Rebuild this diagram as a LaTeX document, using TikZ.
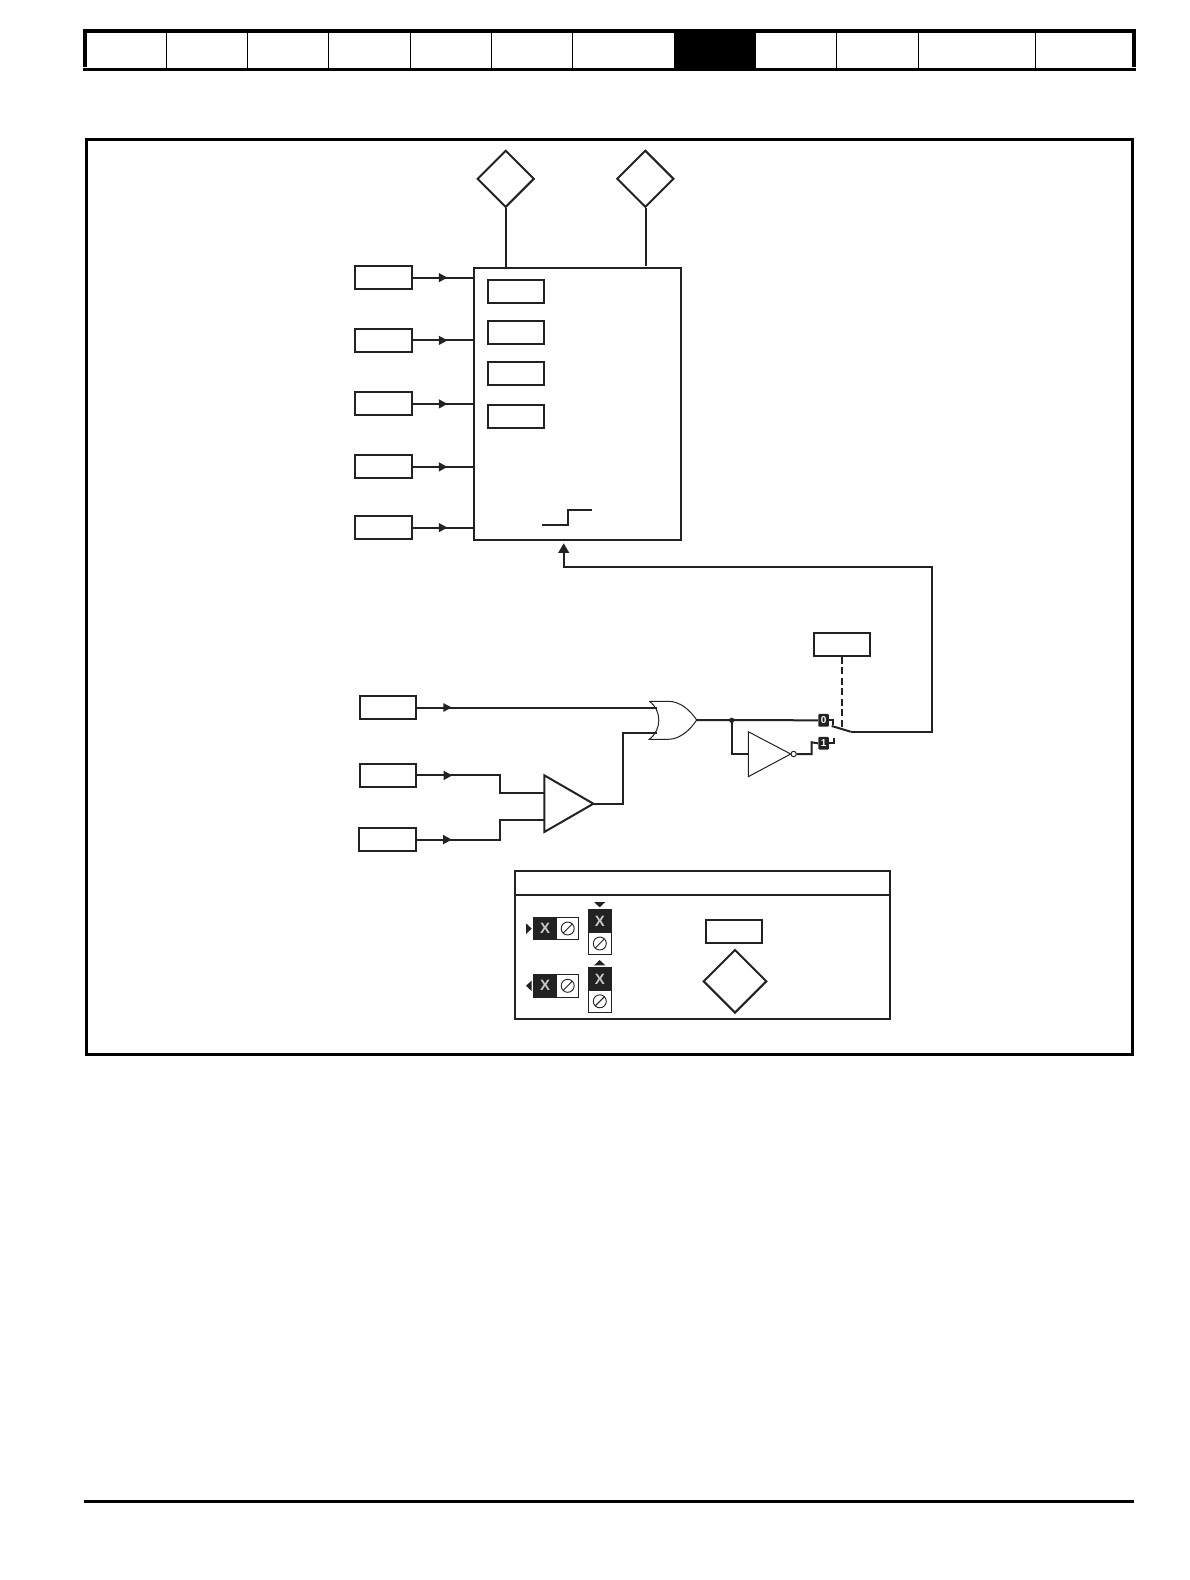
\documentclass[tikz,border=0pt]{standalone}
\usepackage{fontspec}
\setmainfont{Liberation Sans}
\usetikzlibrary{shapes.geometric,arrows.meta,decorations.markings,calc}
\definecolor{ink}{HTML}{222222}
\definecolor{pale}{HTML}{C8C8C8}
\tikzset{
  wire/.style={draw=ink,line width=2pt},
  thinwire/.style={draw=ink,line width=1pt},
  boxa/.style={draw=ink,line width=2pt,fill=white,inner sep=0pt,minimum width=56.6pt,minimum height=23pt},
  gemA/.style={shape=diamond,draw=ink,line width=2pt,fill=white,inner sep=0pt,minimum width=57pt,minimum height=57pt},
  headarrow/.style={postaction={decorate,decoration={markings,mark=at position #1 with {\fill[ink] (0,-4.7)--(8.5,0)--(0,4.7)--cycle;}}}},
  blackcell/.style={fill=ink,inner sep=0pt,text=pale,font=\fontsize{15}{15}\bfseries\selectfont},
  whitecell/.style={draw=ink,line width=.9pt,fill=white,inner sep=0pt},
  posbox/.style={fill=ink,rounded corners=1pt,inner sep=0pt,minimum width=10.7pt,minimum height=12.7pt,text=white,font=\fontsize{10}{10}\bfseries\selectfont},
  nosign/.style={draw=ink,line width=.9pt,circle,inner sep=0pt,minimum size=13pt,path picture={\draw[ink,line width=.9pt] (path picture bounding box.south west)--(path picture bounding box.north east);}},
}
\begin{document}
\begin{tikzpicture}[x=1pt,y=-1pt]
\useasboundingbox (0,0) rectangle (1190,1580);
% header strip
\fill[black] (82.7,29) rectangle (1136,33);
\fill[black] (82.7,67.7) rectangle (1136,71);
\fill[black] (82.7,29) rectangle (87,66.7);
\fill[black] (1132,29) rectangle (1136,66.7);
\fill[black] (674,29) rectangle (755.7,71);
\foreach \hx in {166.3,247.7,328.7,410.5,491.5,572.6,836.7,918.3,1035.3}
  \draw[black,line width=1pt] (\hx,30)--(\hx,70);
% frame and footer
\draw[black,line width=3pt] (86.4,139.6) rectangle (1132.5,1054.5);
\fill[black] (84,1499.8) rectangle (1134,1503.4);

% upper block
\node[boxa,minimum width=207pt,minimum height=272.3pt] (main) at (577.5,404) {};
\node[gemA] (d1) at (505.7,178.8) {};
\node[gemA] (d2) at (645.3,178.8) {};
\coordinate (d2end) at (645.8,265.7);
\draw[wire] (d1.south)--(d1.south |- main.north);
\draw[wire] (d2.south -| d2end)--(d2end);
\foreach \nm/\yy in {in1/277.6,in2/340.4,in3/403.9,in4/466.9,in5/527.6}{
  \node[boxa] (\nm) at (383.5,\yy) {};
  \draw[wire,headarrow=26pt] (\nm.east)--(\nm.east -| main.west);
}
\foreach \nm/\yy in {ib1/291.2,ib2/332,ib3/373.5,ib4/416.2}
  \node[boxa] (\nm) at (516,\yy) {};
\draw[wire] (542.3,524.7)--(568,524.7)--(568,509.7)--(591.7,509.7);

% lower inputs
\node[boxa] (c1) at (387.9,707.4) {};
\node[boxa] (c2) at (387.9,775.4) {};
\node[boxa] (c3) at (387.4,839.6) {};
\node[boxa] (sel) at (842,644.2) {};

% comparator
\coordinate (tA) at (544.3,775.3);
\coordinate (tB) at (544.3,832);
\coordinate (tO) at (593.4,803.7);
\coordinate (tI1) at (544.3,793);
\coordinate (tI2) at (544.3,820);
\draw[wire,fill=white,line join=miter] (tA)--(tB)--(tO)--cycle;
\draw[wire,headarrow=26.5pt] (c2.east)--(500,775.4)--(500,793)--(tI1);
\draw[wire,headarrow=26.5pt] (c3.east)--(500,839.6)--(500,820)--(tI2);

% OR gate
\coordinate (orA) at (656.5,707.6);
\coordinate (orB) at (656.5,732.7);
\coordinate (orO) at (696.7,720);
\draw[thinwire,fill=white] (649.3,701.3)--(668.3,701.3)
  .. controls (680,701.3) and (690,710) .. (orO)
  .. controls (690,730) and (680,739.3) .. (668.3,739.3)
  --(649.3,739.3)
  .. controls (662,730) and (662,710) .. (649.3,701.3);
\draw[wire] (c1.east |- orA)--(orA);
\fill[ink] (443.3,703.1)--(451.7,707.5)--(443.3,711.9)--cycle;
\draw[wire] (tO)--(623,803.7)--(623,732.7)--(orB);

% switch symbols
\node[posbox] (p0) at (823.6,720.3) {0};
\node[posbox] (p1) at (823.6,743.3) {1};
\draw[wire] (orO)--(p0.west);
\coordinate (dot) at (731.7,720.3);
\fill[ink] (dot) circle (2.6);
\coordinate (nA) at (748.3,731.7);
\coordinate (nB) at (748.3,776.7);
\coordinate (nO) at (790.7,754);
\draw[wire] (dot)--(731.7,754)--(748.3,754);
\draw[thinwire,fill=white] (nA)--(nB)--(nO)--cycle;
\node[draw=ink,line width=1pt,circle,inner sep=0pt,minimum size=5.4pt,fill=white] (bub) at (793.6,754) {};
\draw[wire] (bub.east)--(811.7,754)--(811.7,742.3)--(p1.west);
\draw[wire] (p0.east)--(833.3,720.3)--(833.3,725);
\draw[wire] (p1.east)--(833.5,743.3)--(833.5,738);
\coordinate (swB) at (850.7,731.7);
\draw[wire] (831.7,726)--(swB);
\draw[wire,dash pattern=on 7pt off 3.5pt] (sel.south)--(842,728);
\coordinate (fbtip) at (563.7,543.3);
\draw[wire,-{Triangle[width=10.5pt,length=9.5pt]}] (swB)--(932.3,731.7)--(932.3,567)--(563.7,567)--(fbtip);

% legend
\node[boxa,minimum width=375.3pt,minimum height=148pt] (legend) at (702.3,944.7) {};
\draw[wire] (legend.west |- 0,894.7)--(legend.east |- 0,894.7);
\node[boxa] (lbox) at (734,931.2) {};
\node[gemA,minimum width=63.5pt,minimum height=63.5pt] (lgem) at (735,981.3) {};
% horizontal pairs
\foreach \nm/\yy in {ha/928.5,hb/985.8}{
  \node[whitecell,minimum width=45.4pt,minimum height=22.6pt] (\nm) at (556,\yy) {};
  \node[blackcell,minimum width=23.4pt,minimum height=22.6pt] (\nm x) at (545,\yy) {X};
  \node[nosign] (\nm o) at (567.7,\yy) {};
}
% vertical pairs
\foreach \nm/\yy in {va/921.2,vb/979}{
  \node[whitecell,minimum width=23.7pt,minimum height=45pt] (\nm) at (599.8,\yy+11) {};
  \node[blackcell,minimum width=23.7pt,minimum height=23pt] (\nm x) at (599.8,\yy) {X};
  \node[nosign] (\nm o) at (599.8,\yy+22.3) {};
}
\fill[ink] (526,923.3)--(531.7,928.6)--(526,934)--cycle;
\fill[ink] (526,985.8)--(531.7,980.5)--(531.7,991.1)--cycle;
\fill[ink] (594,902)--(605.3,902)--(599.7,907.3)--cycle;
\fill[ink] (594,965.4)--(605.3,965.4)--(599.7,960)--cycle;
\end{tikzpicture}
\end{document}
